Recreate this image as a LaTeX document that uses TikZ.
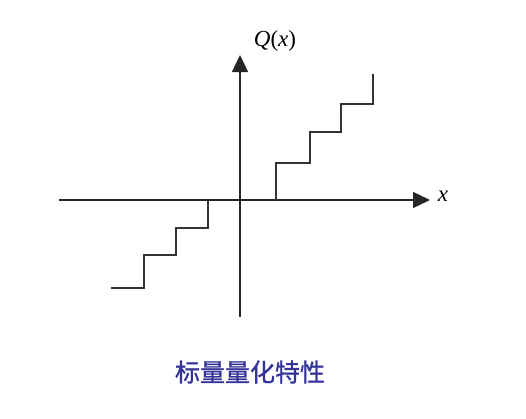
\documentclass[tikz,border=0pt]{standalone}
\usepackage{fontspec}
\setmainfont{Liberation Serif}
\newfontfamily\cjk[FakeBold=1]{Noto Sans CJK SC}
\usepackage{xcolor}
\usepackage{tikz}
\usetikzlibrary{arrows.meta}
\definecolor{captionblue}{RGB}{51,51,153}

\begin{document}
\begin{tikzpicture}[x=1pt,y=-1pt]
    \tikzstyle{axis} = [line width=1.3pt,draw=black!85,-{Triangle[length=17pt,width=16pt]}]
    \tikzstyle{stairs} = [line width=1.3pt,draw=black!80]
    \useasboundingbox (0,0) rectangle (526,418);

    \coordinate (xl) at (59,200);
    \coordinate (xr) at (430,200);
    \coordinate (yb) at (240,317);
    \coordinate (yt) at (240,55);

    \draw[axis] (xl) -- (xr);
    \draw[axis] (yb) -- (yt);

    \node at (275,41) (qlabel) {\fontsize{23}{27}\selectfont\textit{Q}(\textit{x})};
    \node at (443,196) (xlabel) {\fontsize{23}{27}\selectfont\textit{x}};

    % positive steps
    \draw[stairs] (276,200) -- (276,163) -- (310,163) -- (310,132)
        -- (341,132) -- (341,104) -- (373,104) -- (373,74);
    % negative steps
    \draw[stairs] (208,200) -- (208,228) -- (176,228) -- (176,255)
        -- (144,255) -- (144,288) -- (111,288);

    \node at (250,372) (caption) {\cjk\fontsize{25}{30}\selectfont\color{captionblue}标量量化特性};
\end{tikzpicture}
\end{document}
